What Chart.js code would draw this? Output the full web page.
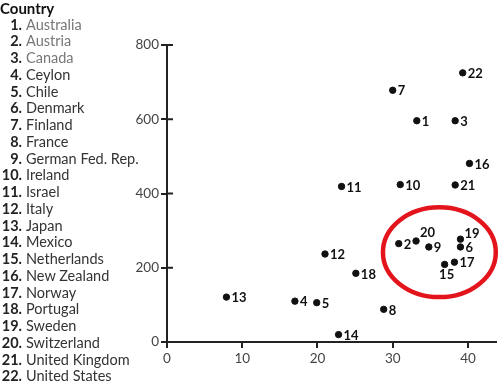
<!DOCTYPE html>
<html>
<head>
<meta charset="utf-8">
<script src="https://cdn.jsdelivr.net/npm/chart.js@4"></script>
<style>
  body { margin: 0; background: #fff; }
  #wrap { position: relative; width: 500px; height: 387px; }
  #legend {
    position: absolute; left: 0; top: 0;
    font-family: Lato, "Open Sans", sans-serif; font-size: 14.5px;
    color: #333; line-height: 16.75px;
  }
  #legend .title { font-weight: bold; color: #111; height: 16.6px; line-height: 16.6px; font-size: 15px; }
  #legend .num { display: inline-block; width: 22px; text-align: right; font-weight: bold; color: #222; }
  #legend .name { margin-left: 4px; }
</style>
</head>
<body>
<div id="wrap">
  <canvas id="chart" width="500" height="387"></canvas>
  <div id="legend"><div class="title">Country</div></div>
</div>
<script>
// data
const countries = ["Australia", "Austria", "Canada", "Ceylon", "Chile", "Denmark", "Finland",
  "France", "German Fed. Rep.", "Ireland", "Israel", "Italy", "Japan", "Mexico", "Netherlands",
  "New Zealand", "Norway", "Portugal", "Sweden", "Switzerland", "United Kingdom", "United States"];
const xValues = [33.2, 30.8, 38.3, 17.0, 19.9, 39.0, 30.0, 28.8, 34.8, 31.0, 23.2,
  21.0, 7.9, 22.8, 36.9, 40.2, 38.2, 25.1, 39.0, 33.1, 38.3, 39.3];
const yValues = [596, 265, 596, 110, 106, 256, 678, 88, 256, 424, 419,
  237, 121, 20, 209, 481, 215, 185, 277, 272, 423, 725];
const xTicks = [0, 10, 20, 30, 40];
const yTicks = [0, 200, 400, 600, 800];

// highlighted group (data units)
const highlight = { cx: 36.2, cy: 242, rx: 7.5, ry: 121 };

// legend on the left
const legendEl = document.getElementById("legend");
countries.forEach((name, i) => {
    const row = document.createElement("div");
    row.innerHTML = '<span class="num">' + (i + 1) + '.</span><span class="name">' + name + '</span>';
    if (i < 3) row.querySelector(".name").style.color = "#777";
    legendEl.appendChild(row);
});

const points = xValues.map((x, i) => ({ x: x, y: yValues[i] }));

// where the number sits next to each point
const labelPlace = { 15: "below", 19: "upright", 20: "upright" };

const extras = {
    id: "extras",
    afterDatasetsDraw(chart) {
        const ctx = chart.ctx;
        const xs = chart.scales.x, ys = chart.scales.y;

        // inner half of the y tick marks
        ctx.save();
        ctx.strokeStyle = "#222";
        ctx.lineWidth = 2;
        yTicks.forEach(v => {
            const py = ys.getPixelForValue(v);
            ctx.beginPath();
            ctx.moveTo(xs.left, py);
            ctx.lineTo(xs.left + 6, py);
            ctx.stroke();
        });
        ctx.restore();

        // point numbers
        const meta = chart.getDatasetMeta(0);
        ctx.save();
        ctx.font = "bold 13px Lato, sans-serif";
        ctx.fillStyle = "#111";
        meta.data.forEach((el, i) => {
            const n = i + 1;
            const place = labelPlace[n];
            if (place === "below") {
                ctx.textAlign = "center";
                ctx.textBaseline = "middle";
                ctx.fillText(String(n), el.x + 2, el.y + 10);
            } else if (place === "upright") {
                ctx.textAlign = "left";
                ctx.textBaseline = "middle";
                ctx.fillText(String(n), el.x + 4, el.y - (n === 20 ? 8 : 5));
            } else {
                ctx.textAlign = "left";
                ctx.textBaseline = "middle";
                ctx.fillText(String(n), el.x + 5, el.y + 1);
            }
        });
        ctx.restore();

        // red ellipse round the cluster
        const cx = xs.getPixelForValue(highlight.cx);
        const cy = ys.getPixelForValue(highlight.cy);
        const rx = xs.getPixelForValue(highlight.cx + highlight.rx) - cx;
        const ry = cy - ys.getPixelForValue(highlight.cy + highlight.ry);
        ctx.save();
        ctx.strokeStyle = "#e3141c";
        ctx.lineWidth = 4.5;
        ctx.beginPath();
        ctx.ellipse(cx, cy, rx, ry, 0, 0, Math.PI * 2);
        ctx.stroke();
        ctx.restore();
    }
};

const ctx = document.getElementById("chart").getContext("2d");
new Chart(ctx, {
    type: "scatter",
    data: {
        datasets: [{
            data: points,
            backgroundColor: "#111",
            borderColor: "#111",
            pointRadius: 3.2,
            pointHoverRadius: 3.2,
            clip: false
        }]
    },
    options: {
        responsive: false,
        animation: false,
        layout: { padding: { left: 127, right: 2, top: 45, bottom: 15 } },
        plugins: {
            legend: { display: false },
            tooltip: { enabled: false }
        },
        scales: {
            x: {
                type: "linear",
                min: 0,
                max: 43.7,
                afterFit: s => { s.height = 30; },
                afterBuildTicks: s => { s.ticks = xTicks.map(v => ({ value: v })); },
                border: { color: "#222", width: 2 },
                grid: { drawOnChartArea: false, color: "#222", lineWidth: 2, tickLength: 6 },
                ticks: {
                    color: "#444", padding: 3,
                    font: { family: "Lato, sans-serif", size: 13.5 }
                }
            },
            y: {
                type: "linear",
                min: 0,
                max: 800,
                afterFit: s => { s.width = 40; },
                afterBuildTicks: s => { s.ticks = yTicks.map(v => ({ value: v })); },
                border: { color: "#222", width: 2 },
                grid: { drawOnChartArea: false, color: "#222", lineWidth: 2, tickLength: 6 },
                ticks: {
                    color: "#444", padding: 2,
                    font: { family: "Lato, sans-serif", size: 13.5 }
                }
            }
        }
    },
    plugins: [extras]
});
</script>
</body>
</html>
